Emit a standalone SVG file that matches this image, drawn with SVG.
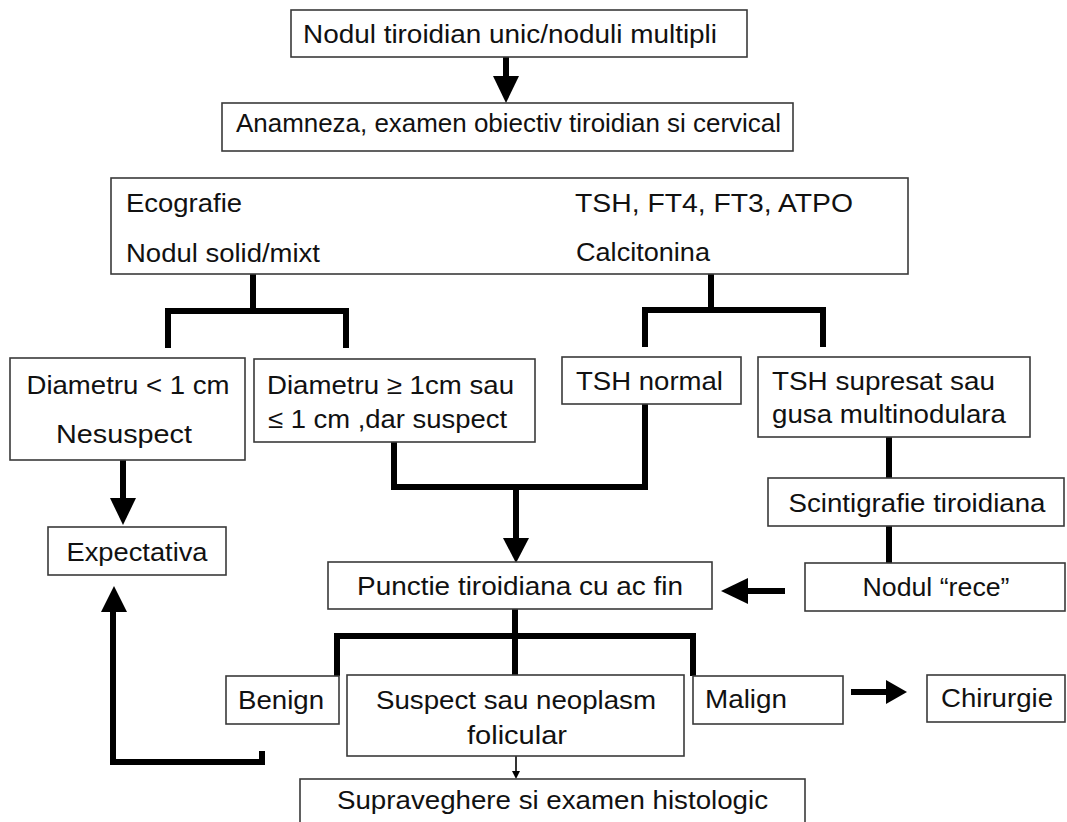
<svg xmlns="http://www.w3.org/2000/svg" width="1067" height="822" viewBox="0 0 1067 822">
<style>
  .box { fill: #ffffff; stroke: #3a3a3a; stroke-width: 1.6; }
  .t { font-family: "Liberation Sans", Arial, sans-serif; font-size: 26px; fill: #111111; }
  .c { text-anchor: middle; }
  .ln { fill: none; stroke: #000000; stroke-width: 6; stroke-linejoin: miter; stroke-linecap: butt; }
  .thin { fill: none; stroke: #000000; stroke-width: 1.6; }
  .head { fill: #000000; }
</style>
<rect width="1067" height="822" fill="#ffffff"/>

<g id="connectors">
  <path class="ln" d="M506 57 V78"/>
  <polygon class="head" points="493,76 519,76 506,103"/>
  <path class="ln" d="M253 274 V311"/>
  <path class="ln" d="M168 348 V311 H346 V348"/>
  <path class="ln" d="M711 274 V310"/>
  <path class="ln" d="M645 347 V310 H823 V347"/>
  <path class="ln" d="M123 460 V500"/>
  <polygon class="head" points="110,498 136,498 123,525"/>
  <path class="ln" d="M394 442 V487 H645 V404"/>
  <path class="ln" d="M516 487 V540"/>
  <polygon class="head" points="503,538 529,538 516,563"/>
  <path class="ln" d="M889 437 V478"/>
  <path class="ln" d="M889 526 V563"/>
  <path class="ln" d="M785 591 H746"/>
  <polygon class="head" points="748,578 748,604 721,591"/>
  <path class="ln" d="M515 609 V675"/>
  <path class="ln" d="M337 676 V636 H693 V676"/>
  <path class="ln" d="M851 692 H888"/>
  <polygon class="head" points="886,680 886,704 907,692"/>
  <path class="thin" d="M516 756 V773"/>
  <polygon class="head" points="512,771 520,771 516,779"/>
  <path class="ln" d="M262 751 V762 H113 V610"/>
  <polygon class="head" points="101,612 127,612 114,586"/>
</g>

<g id="n1"><rect class="box" x="291" y="10" width="456" height="47"/>
  <text class="t" x="303" y="43" textLength="414" lengthAdjust="spacingAndGlyphs">Nodul tiroidian unic/noduli multipli</text></g>
<g id="n2"><rect class="box" x="222" y="103" width="571" height="48"/>
  <text class="t" x="236" y="132" textLength="545" lengthAdjust="spacingAndGlyphs">Anamneza, examen obiectiv tiroidian si cervical</text></g>
<g id="n3"><rect class="box" x="111" y="178" width="797" height="96"/>
  <text class="t" x="126" y="212" textLength="116" lengthAdjust="spacingAndGlyphs">Ecografie</text>
  <text class="t" x="126" y="262" textLength="194" lengthAdjust="spacingAndGlyphs">Nodul solid/mixt</text>
  <text class="t" x="575" y="212" textLength="278" lengthAdjust="spacingAndGlyphs">TSH, FT4, FT3, ATPO</text>
  <text class="t" x="576" y="261" textLength="134" lengthAdjust="spacingAndGlyphs">Calcitonina</text></g>
<g id="n4"><rect class="box" x="10" y="358" width="235" height="102"/>
  <text class="t c" x="128" y="394" textLength="203" lengthAdjust="spacingAndGlyphs">Diametru &lt; 1 cm</text>
  <text class="t c" x="124" y="443" textLength="136" lengthAdjust="spacingAndGlyphs">Nesuspect</text></g>
<g id="n5"><rect class="box" x="254" y="359" width="281" height="83"/>
  <text class="t" x="267" y="394" textLength="247" lengthAdjust="spacingAndGlyphs">Diametru ≥ 1cm sau</text>
  <text class="t" x="268" y="428" textLength="239" lengthAdjust="spacingAndGlyphs">≤ 1 cm ,dar suspect</text></g>
<g id="n6"><rect class="box" x="562" y="357" width="179" height="47"/>
  <text class="t" x="576" y="390" textLength="147" lengthAdjust="spacingAndGlyphs">TSH normal</text></g>
<g id="n7"><rect class="box" x="758" y="357" width="272" height="80"/>
  <text class="t" x="772" y="390" textLength="223" lengthAdjust="spacingAndGlyphs">TSH supresat sau</text>
  <text class="t" x="772" y="423" textLength="234" lengthAdjust="spacingAndGlyphs">gusa multinodulara</text></g>
<g id="n8"><rect class="box" x="48" y="527" width="178" height="48"/>
  <text class="t c" x="137" y="561" textLength="141" lengthAdjust="spacingAndGlyphs">Expectativa</text></g>
<g id="n9"><rect class="box" x="768" y="478" width="296" height="48"/>
  <text class="t c" x="917" y="512" textLength="257" lengthAdjust="spacingAndGlyphs">Scintigrafie tiroidiana</text></g>
<g id="n10"><rect class="box" x="805" y="563" width="260" height="48"/>
  <text class="t c" x="936" y="596" textLength="147" lengthAdjust="spacingAndGlyphs">Nodul “rece”</text></g>
<g id="n11"><rect class="box" x="328" y="562" width="384" height="47"/>
  <text class="t c" x="520" y="595" textLength="326" lengthAdjust="spacingAndGlyphs">Punctie tiroidiana cu ac fin</text></g>
<g id="n12"><rect class="box" x="226" y="676" width="113" height="48"/>
  <text class="t c" x="281" y="709" textLength="86" lengthAdjust="spacingAndGlyphs">Benign</text></g>
<g id="n13"><rect class="box" x="347" y="675" width="337" height="81"/>
  <text class="t c" x="516" y="709" textLength="280" lengthAdjust="spacingAndGlyphs">Suspect sau neoplasm</text>
  <text class="t c" x="517" y="744" textLength="100" lengthAdjust="spacingAndGlyphs">folicular</text></g>
<g id="n14"><rect class="box" x="693" y="676" width="150" height="48"/>
  <text class="t" x="705" y="708" textLength="82" lengthAdjust="spacingAndGlyphs">Malign</text></g>
<g id="n15"><rect class="box" x="927" y="675" width="138" height="47"/>
  <text class="t c" x="997" y="707" textLength="112" lengthAdjust="spacingAndGlyphs">Chirurgie</text></g>
<g id="n16"><rect class="box" x="300" y="779" width="505" height="60"/>
  <text class="t" x="337" y="809" textLength="431" lengthAdjust="spacingAndGlyphs">Supraveghere si examen histologic</text></g>
</svg>
